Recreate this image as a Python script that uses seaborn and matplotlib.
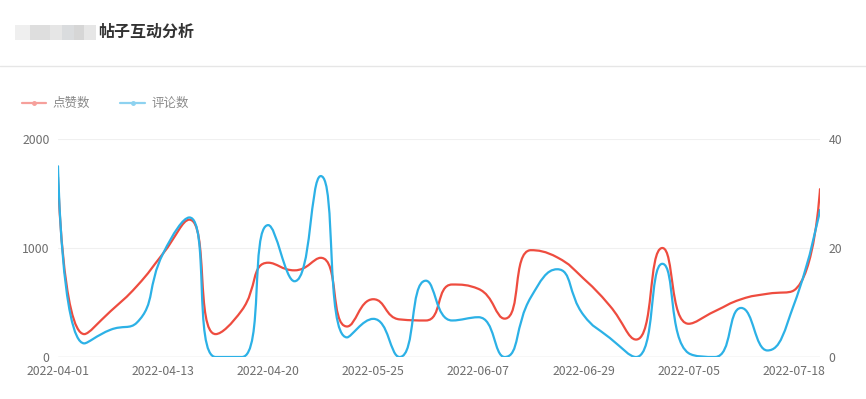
import numpy as np
import matplotlib
matplotlib.use("Agg")
import matplotlib.pyplot as plt
import seaborn as sns
from matplotlib.path import Path
from matplotlib.patches import PathPatch, Rectangle
from matplotlib.lines import Line2D

# data
tick_labels = ["2022-04-01", "2022-04-13", "2022-04-20", "2022-05-25",
               "2022-06-07", "2022-06-29", "2022-07-05", "2022-07-18"]
likes = [1650, 210, 420, 650, 950, 1260, 210, 430, 865, 795,
         910, 280, 530, 345, 335, 665, 625, 352, 980, 914,
         720, 470, 160, 1000, 305, 420, 530, 580, 610, 1540]
comments = [35, 2.5, 5, 6.3, 19, 25.6, 0, 0, 24.2, 13.9,
            33.2, 3.6, 7, 0, 14, 6.7, 7.3, 0, 11, 16.1,
            7.7, 3.5, 0, 17.1, 0.7, 0, 9, 1.2, 9.5, 27]

W, H = 866, 399
RED = "#ee4c3f"
BLUE = "#2cb1e6"

sns.set_style("white")
plt.rcParams["font.family"] = ["Noto Sans CJK SC", "DejaVu Sans"]


def fx(px):
    return px / W


def fy(py):
    return 1 - py / H


def smooth_path(yv, sx, sy, smooth=0.5):
    # echarts-like bezier smoothing, control points clamped to neighbours
    P = np.column_stack([np.arange(len(yv)) * sx, np.asarray(yv, float) * sy])
    n = len(P)
    verts = [P[0]]
    codes = [Path.MOVETO]
    cp_out = P[0].copy()
    for i in range(1, n):
        cur = P[i]
        if i == n - 1:
            cp_in = cur.copy()
            nxt_out = cur.copy()
        else:
            prev, nxt = P[i - 1], P[i + 1]
            v = nxt - prev
            d0 = np.hypot(*(cur - prev))
            d1 = np.hypot(*(nxt - cur))
            r = d1 / (d0 + d1)
            nxt_out = cur + v * smooth * r
            nxt_out = np.minimum(nxt_out, np.maximum(nxt, cur))
            nxt_out = np.maximum(nxt_out, np.minimum(nxt, cur))
            cp_in = cur - (nxt_out - cur) * d0 / d1
            cp_in = np.minimum(cp_in, np.maximum(prev, cur))
            cp_in = np.maximum(cp_in, np.minimum(prev, cur))
            nxt_out = cur + (cur - cp_in) * d1 / d0
        verts += [cp_out, cp_in, cur]
        codes += [Path.CURVE4] * 3
        cp_out = nxt_out
    verts = np.array(verts)
    verts[:, 0] /= sx
    verts[:, 1] /= sy
    return Path(verts, codes)


fig = plt.figure(figsize=(W / 100, H / 100), dpi=100)
ax = fig.add_axes([fx(58), fy(357), (820 - 58) / W, (357 - 139) / H])
ax2 = ax.twinx()

n = len(likes)
xstep = (820 - 58) / (n - 1)
ax.add_patch(PathPatch(smooth_path(likes, xstep, 218 / 2000), fill=False,
                       edgecolor=RED, lw=1.6, capstyle="round", joinstyle="round"))
ax2.add_patch(PathPatch(smooth_path(comments, xstep, 218 / 40), fill=False,
                        edgecolor=BLUE, lw=1.6, capstyle="round", joinstyle="round"))

ax.set_xlim(0, n - 1)
ax.set_ylim(0, 2000)
ax2.set_ylim(0, 40)
ax.set_yticks([0, 1000, 2000])
ax2.set_yticks([0, 20, 40])
ax.set_xticks(range(0, n, 4))
ax.set_xticklabels(tick_labels)

for a in (ax, ax2):
    for s in a.spines.values():
        s.set_visible(False)
    a.tick_params(length=0, labelsize=8.8, colors="#6e6e6e")
ax.tick_params(axis="y", pad=6)
ax2.tick_params(axis="y", pad=6)
ax.tick_params(axis="x", pad=6)
ax.yaxis.grid(True, color="#f0f0f0", lw=0.8)
ax.xaxis.grid(False)
ax2.grid(False)
ax.axhline(0, color="#dcdcdc", lw=1, zorder=1)

# header
fig.add_artist(Line2D([0, 1], [fy(66), fy(66)], transform=fig.transFigure,
                      color="#e6e6e6", lw=1))
for x0, x1, c in [(15, 30, "#efefef"), (30, 50, "#dedede"), (50, 62, "#e6e6e6"),
                  (62, 74, "#dadcde"), (74, 84, "#d6d6d6"), (84, 96, "#e6e6e6")]:
    fig.add_artist(Rectangle((fx(x0), fy(40)), (x1 - x0) / W, 15 / H,
                             transform=fig.transFigure, color=c, lw=0))
fig.text(fx(98), fy(32), "帖子互动分析", fontsize=11.5, fontweight="bold",
         color="#333333", va="center", ha="left")

# legend
for x0, x1, c, lab in [(22, 46, "#f6a09b", "点赞数"), (120, 145, "#8dd2f0", "评论数")]:
    fig.add_artist(Line2D([fx(x0), fx(x1)], [fy(103), fy(103)],
                          transform=fig.transFigure, color=c, lw=1.6))
    fig.add_artist(Line2D([fx((x0 + x1) / 2)], [fy(103)], transform=fig.transFigure,
                          marker="o", ms=2.5, color=c, mec=c))
    fig.text(fx(x1 + 6), fy(103), lab, fontsize=9, color="#8a8a8a",
             va="center", ha="left")

fig.savefig("out.png", dpi=100)
